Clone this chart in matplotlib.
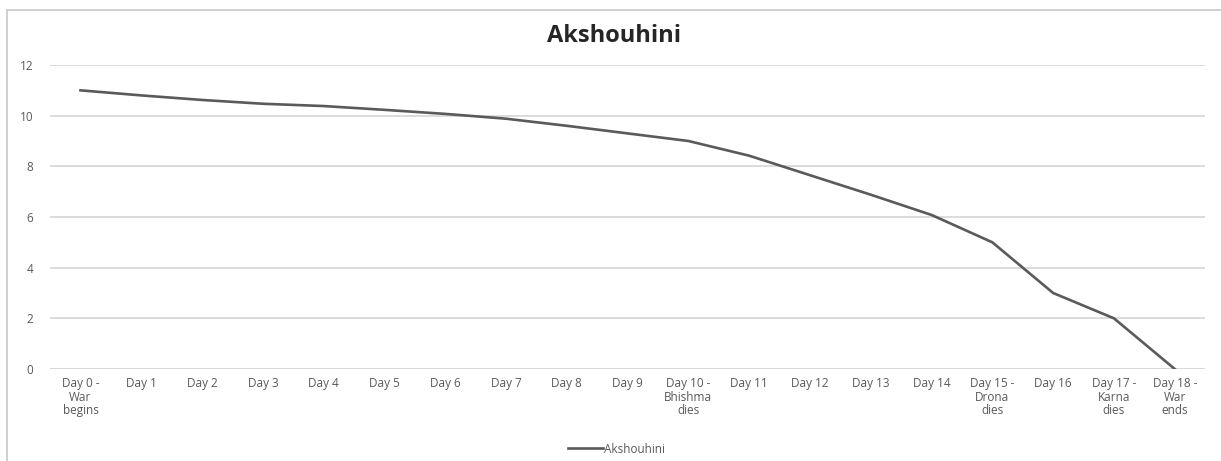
import matplotlib
matplotlib.use("Agg")
import matplotlib.pyplot as plt
from matplotlib.patches import Rectangle
from matplotlib.lines import Line2D

# Data
days = [
    "Day 0 -\nWar\nbegins", "Day 1", "Day 2", "Day 3", "Day 4", "Day 5",
    "Day 6", "Day 7", "Day 8", "Day 9", "Day 10 -\nBhishma\ndies",
    "Day 11", "Day 12", "Day 13", "Day 14", "Day 15 -\nDrona\ndies",
    "Day 16", "Day 17 -\nKarna\ndies", "Day 18 -\nWar\nends",
]
akshouhini = [11, 10.8, 10.62, 10.47, 10.38, 10.23, 10.07, 9.88, 9.6, 9.3,
              9.0, 8.42, 7.65, 6.88, 6.08, 5.0, 3.0, 2.0, 0]
y_ticks = [0, 2, 4, 6, 8, 10, 12]

plt.rcParams['font.family'] = ['Open Sans', 'DejaVu Sans']

fig = plt.figure(figsize=(12.21, 4.61), dpi=100)
ax = fig.add_axes([0.041, 0.1996, 0.946, 0.6594])

x = list(range(len(days)))
ax.plot(x, akshouhini, color='#5a5a5a', linewidth=1.9, solid_joinstyle='round')

ax.set_xlim(-0.5, len(days) - 0.5)
ax.set_ylim(0, 12)
ax.set_yticks(y_ticks)
ax.set_yticklabels([str(v) for v in y_ticks])
ax.set_xticks(x)
ax.set_xticklabels(days, linespacing=1.05)

ax.grid(axis='y', color='#d9d9d9', linewidth=1.3)
ax.set_axisbelow(True)
for s in ax.spines.values():
    s.set_visible(False)
ax.axhline(0, color='#d0d0d0', linewidth=1.3, zorder=0)
ax.tick_params(axis='both', length=0, labelsize=8.5, colors='#595959')
ax.tick_params(axis='y', pad=12)
ax.tick_params(axis='x', pad=6)

fig.text(0.503, 0.922, "Akshouhini", ha='center', va='center',
         fontsize=17, fontweight='bold', color='#262626')

# legend at the bottom
fig.legend(handles=[Line2D([0], [0], color='#5a5a5a', linewidth=1.9)],
           labels=["Akshouhini"], loc='center', bbox_to_anchor=(0.505, 0.026),
           frameon=False, fontsize=8.5, handlelength=3.0, handletextpad=0.1,
           labelcolor='#595959')

# outer chart border
fig.patches.append(Rectangle((0.006, -0.01), 1.0, 0.988, transform=fig.transFigure,
                             fill=False, edgecolor='#c8c8c8', linewidth=1.2))

fig.savefig("out.png", dpi=100)
